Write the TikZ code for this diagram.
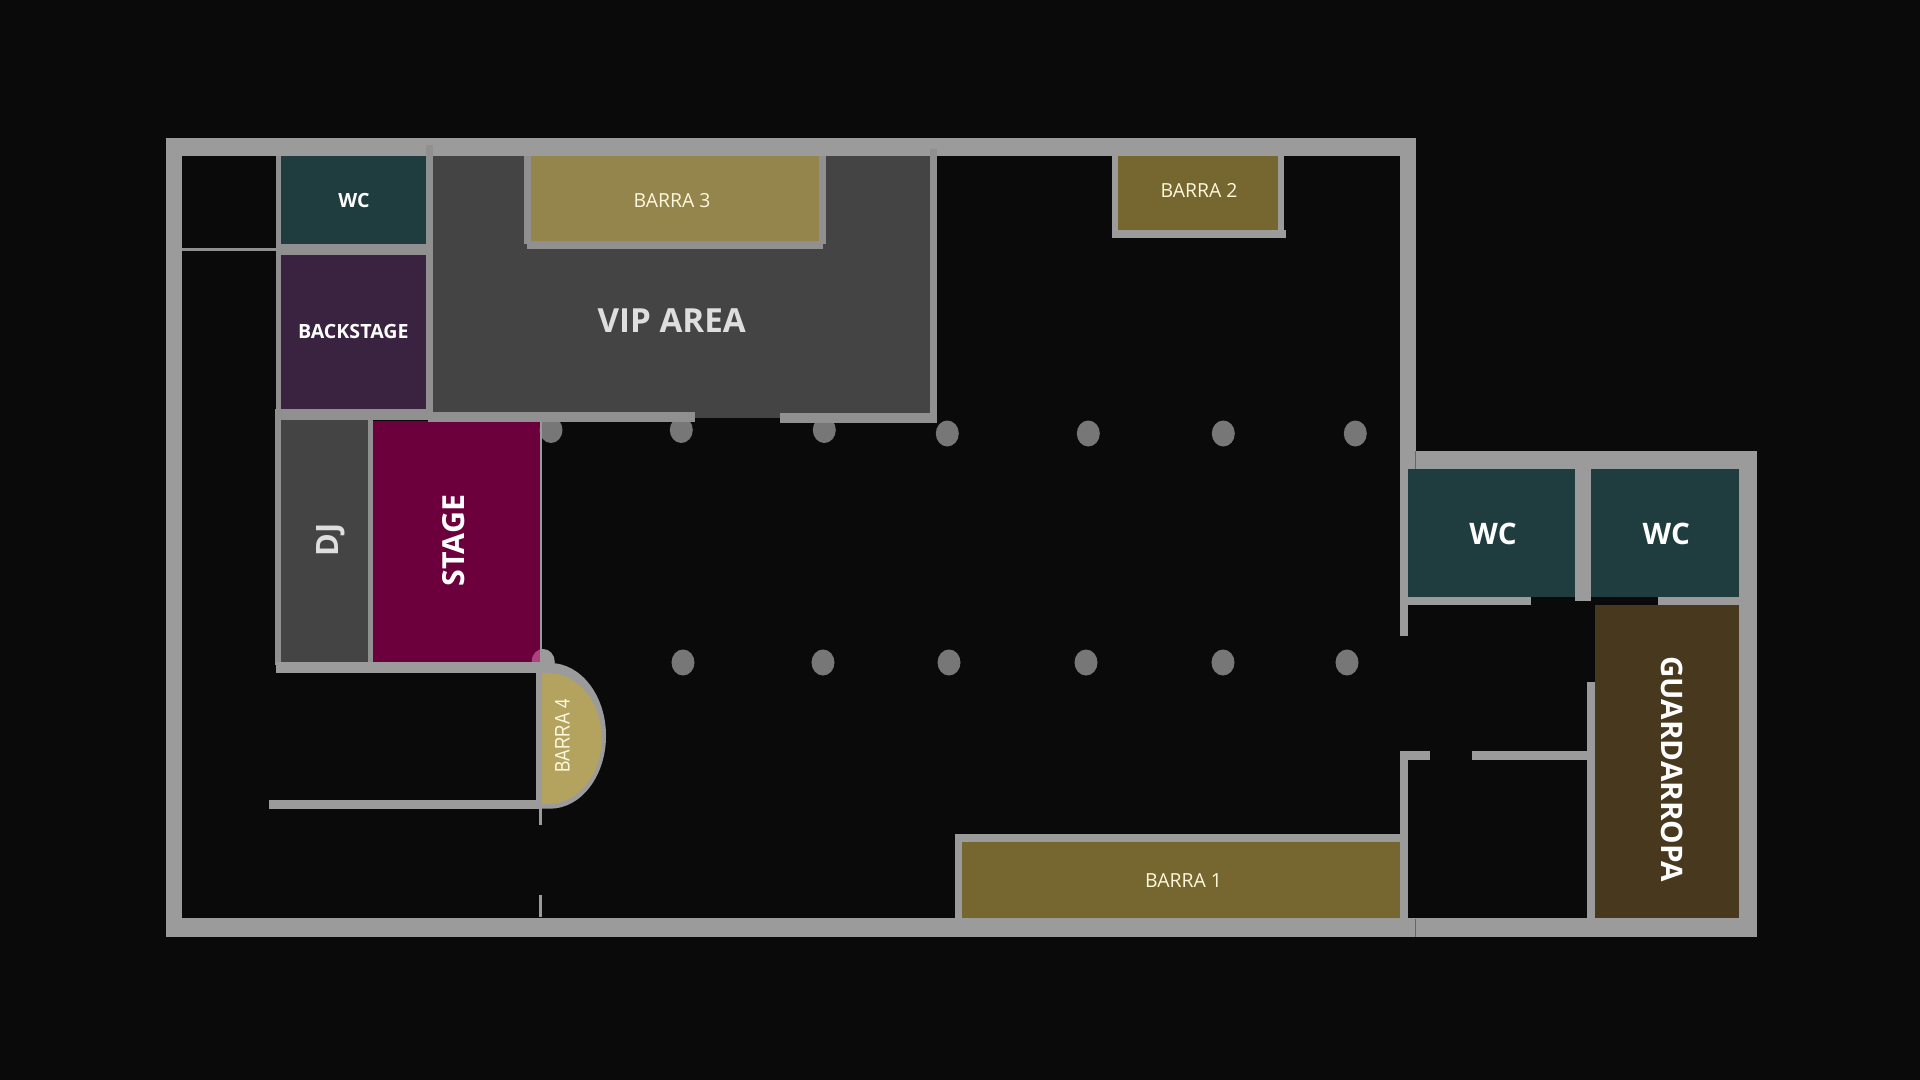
\documentclass[tikz,border=0pt]{standalone}
\usepackage{fontspec}
\setmainfont{Open Sans}
\newfontfamily\barrafont[FakeStretch=0.82]{Liberation Sans}
\definecolor{fondo}{HTML}{0A0A0A}
\definecolor{muro}{HTML}{9B9B9B}
\definecolor{muroin}{HTML}{909090}
\definecolor{columna}{HTML}{777777}
\definecolor{columnarosa}{HTML}{B0407F}
\definecolor{vipgris}{HTML}{444444}
\definecolor{wcverde}{HTML}{1F3D3F}
\definecolor{backlila}{HTML}{3A2340}
\definecolor{stagerojo}{HTML}{6C003D}
\definecolor{barraclara}{HTML}{94854D}
\definecolor{barraoscura}{HTML}{75672F}
\definecolor{barrados}{HTML}{B3A35F}
\definecolor{guardaoscuro}{HTML}{48381E}
\definecolor{crema}{HTML}{FFF8DC}
\begin{document}
\begin{tikzpicture}[
    x=0.5pt,
    y=-0.5pt,
    wall/.style={fill=muro},
    innerwall/.style={fill=muroin},
    pillar/.style={fill=columna},
    roomlabel/.style={
        inner sep=0pt,
        text=white,
        font=\fontsize{9.8pt}{12pt}\selectfont\bfseries
    },
    biglabel/.style={
        roomlabel,
        font=\fontsize{14.8pt}{18pt}\selectfont\bfseries
    },
    greylabel/.style={
        biglabel,
        text=black!13
    },
    barlabel/.style={
        inner sep=0pt,
        text=crema,
        font=\fontsize{9.7pt}{12pt}\selectfont
    }
]

\useasboundingbox (0,0) rectangle (1920,1080);
\fill[fondo] (0,0) rectangle (1920,1080);

% Salas
\fill[vipgris] (433,156) rectangle (930,418);
\fill[wcverde] (281,156) rectangle (425.7,244);
\fill[backlila] (281,254.7) rectangle (425.7,409.3);
\fill[vipgris] (281,420) rectangle (368.3,662);
\fill[stagerojo] (373,420.7) rectangle (540,662);
\fill[barraclara] (530.7,156) rectangle (819.3,241.3);
\fill[barraoscura] (1118.3,156) rectangle (1277.7,230.3);
\fill[barraoscura] (962.3,842) rectangle (1400,918);
\fill[wcverde] (1408,469) rectangle (1574.7,597);
\fill[wcverde] (1590.7,469) rectangle (1738.7,597);
\fill[guardaoscuro] (1595,605) rectangle (1738.7,919);

% Columnas
\foreach \cx/\cy in {551/430,681.3/430,824.3/430,947.3/433.5,1088.3/433.5,1223.3/433.5,1355.3/433.5,
    683/662.5,823/662.5,949/662.5,1086/662.5,1223/662.5,1347/662.5}
    \fill[pillar] (\cx,\cy) ellipse [x radius=11.5, y radius=13];
\fill[wall] (543.3,662) ellipse [x radius=11.5, y radius=13];
\begin{scope}
    \clip (373,420.7) rectangle (540,662);
    \fill[columnarosa] (543.3,662) ellipse [x radius=11.5, y radius=13];
\end{scope}

% Paredes exteriores
\fill[wall] (166,138.3) rectangle (1415.7,156);
\fill[wall] (166,138.3) rectangle (181.7,936.7);
\fill[wall] (166,918) rectangle (1756.7,936.7);
\fill[wall] (1399.7,138.3) rectangle (1415.7,469);
\fill[wall] (1399.7,469) rectangle (1408,635.7);
\fill[wall] (1408,451) rectangle (1756.7,469);
\fill[wall] (1738.7,451) rectangle (1756.7,936.7);
\draw[black!60, line width=0.4pt] (1415.7,451) -- (1415.7,469);
\draw[black!60, line width=0.4pt] (1415.7,919) -- (1415.7,936.7);

% Paredes interiores
\fill[innerwall] (181.7,248.3) rectangle (276,251);
\fill[innerwall] (276.3,156) rectangle (281,244);
\fill[innerwall] (276.3,244) rectangle (428,254.7);
\fill[innerwall] (276.3,254.7) rectangle (281,409.3);
\fill[innerwall] (425.7,145) rectangle (433,412);
\fill[innerwall] (275,409.3) rectangle (428,420);
\fill[innerwall] (275,409.3) rectangle (281,665);
\fill[innerwall] (368.3,420) rectangle (373,662);
\fill[wall] (540,420) rectangle (542.3,662);
\fill[innerwall] (428,412) rectangle (695,421.7);
\fill[innerwall] (780,413.3) rectangle (937,422.7);
\fill[innerwall] (930,149) rectangle (937,422.7);
\fill[wall] (276,662) rectangle (542.3,672.7);

% Barras
\fill[innerwall] (524,156) rectangle (530.7,244);
\fill[innerwall] (819.3,156) rectangle (825.7,244);
\fill[innerwall] (526.7,241.3) rectangle (822.7,249);
\fill[wall] (1111.7,156) rectangle (1118.3,238.3);
\fill[wall] (1277.7,156) rectangle (1284.3,232);
\fill[wall] (1111.7,230.3) rectangle (1286,238.3);
\fill[wall] (955.3,834) rectangle (1400,842);
\fill[wall] (955.3,834) rectangle (962.3,918);
\fill[wall] (542,663) -- (550,663) arc [start angle=-90, end angle=90, x radius=56, y radius=72.85] -- (542,808.7) -- cycle;
\fill[barrados] (542,673) -- (548,673) arc [start angle=-90, end angle=90, x radius=53.7, y radius=65.5] -- (542,804) -- cycle;
\fill[wall] (535.7,662) rectangle (542.3,808.7);
\fill[wall] (269.3,800.3) rectangle (536,808.7);
\fill[wall] (539,808) rectangle (541.7,825);
\fill[wall] (539,895) rectangle (541.7,916.7);

% Zona derecha
\fill[wall] (1574.7,469) rectangle (1590.7,601);
\fill[wall] (1408,597) rectangle (1531,605);
\fill[wall] (1658,597) rectangle (1738.7,605);
\fill[wall] (1586.7,681.7) rectangle (1595,919);
\fill[wall] (1472,751.3) rectangle (1587,760);
\fill[wall] (1400,751.3) rectangle (1430,760);
\fill[wall] (1400,751.3) rectangle (1408,919);

% Textos
\node[roomlabel] (wcsmall) at (354,200.8) {WC};
\node[roomlabel] (backstage) at (353.3,331.8) {BACKSTAGE};
\node[biglabel, text=black!13, font=\fontsize{16.6pt}{20pt}\selectfont\bfseries] (vip) at (671.7,321) {VIP AREA};
\node[greylabel, rotate=90, font=\fontsize{15.4pt}{18pt}\selectfont\bfseries] (dj) at (331,540) {DJ};
\node[biglabel, rotate=90, font=\fontsize{15.2pt}{18pt}\selectfont\bfseries] (stage) at (453.8,540.5) {STAGE};
\node[barlabel] (barra3) at (672,200.8) {BARRA 3};
\node[barlabel] (barra2) at (1199,190) {BARRA 2};
\node[barlabel] (barra1) at (1183.5,881) {BARRA 1};
\node[barlabel, rotate=90, font=\barrafont\fontsize{10.5pt}{12pt}\selectfont] (barra4) at (562.3,735.7) {BARRA 4};
\node[biglabel] (wcleft) at (1493,534) {WC};
\node[biglabel] (wcright) at (1666.3,534) {WC};
\node[biglabel, rotate=-90] (guardarropa) at (1671.7,769) {GUARDARROPA};

\end{tikzpicture}
\end{document}
